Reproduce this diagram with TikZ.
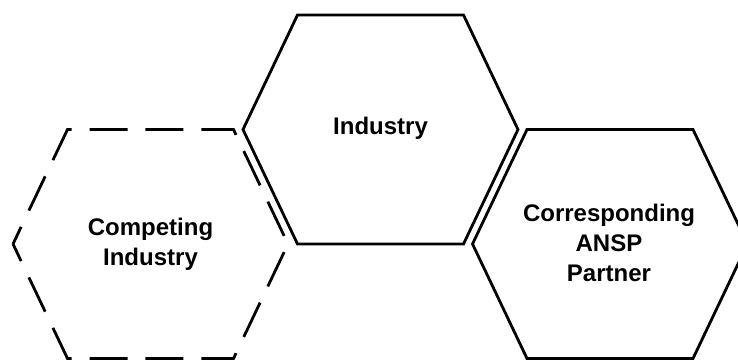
\documentclass[tikz,border=0pt]{standalone}
\usepackage{fontspec}
\setmainfont{Liberation Sans}
\usepackage{tikz}
\usetikzlibrary{calc}
\tikzset{
    hexline/.style={draw=black, line width=2.8pt, line join=miter},
    hexdash/.style={hexline, dash pattern=on 38pt off 17.95pt, dash phase=19pt},
    hextext/.style={align=center, inner sep=0pt, font=\fontsize{24}{30}\selectfont\bfseries}
}
% hexagon path from a centre coordinate
\newcommand{\hexat}[1]{($(#1)+(-137.5,0)$) -- ++(54.5,-114.5) -- ++(166,0) -- ++(54.5,114.5) -- ++(-54.5,114.5) -- ++(-166,0) -- cycle}

\begin{document}
\begin{tikzpicture}[x=1pt, y=-1pt]
    \useasboundingbox (0,0) rectangle (738,361);

    % Centres
    \coordinate (cind) at (380.5,129.5);
    \coordinate (ccomp) at (150.5,244);
    \coordinate (cpart) at (610,244);

    % Hexagons
    \draw [hexline] \hexat{cind};
    \draw [hexdash] \hexat{ccomp};
    \draw [hexline] \hexat{cpart};

    % Labels
    \node [hextext] (industry) at (380.5,128) {Industry};
    \node [hextext] (competing) at (150.5,244) {Competing\\Industry};
    \node [hextext] (partner) at (609,243) {Corresponding\\ANSP\\Partner};
\end{tikzpicture}
\end{document}
